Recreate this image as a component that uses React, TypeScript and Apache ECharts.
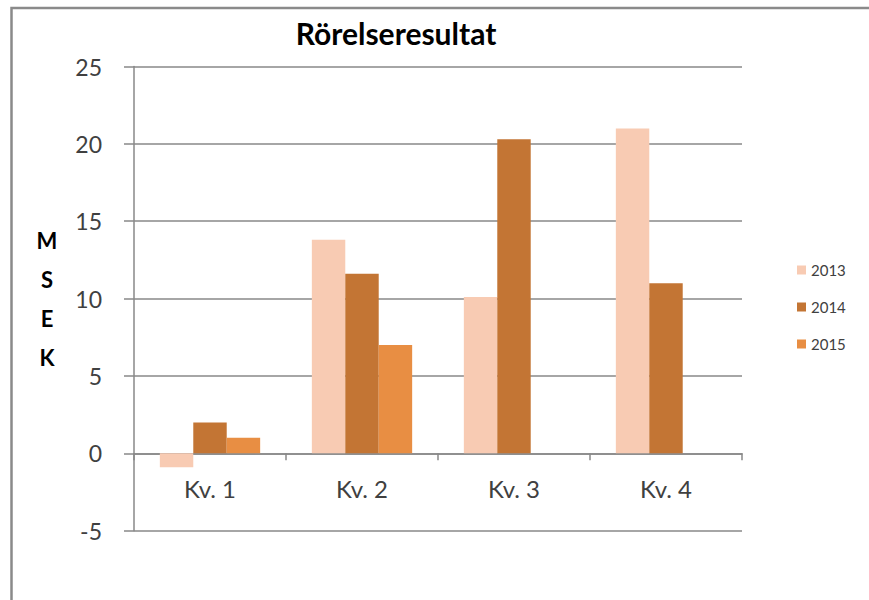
import React, { useEffect, useRef } from "react";
import * as echarts from "echarts";

const categories = ["Kv. 1", "Kv. 2", "Kv. 3", "Kv. 4"];
const years = ["2013", "2014", "2015"];
const values2013 = [-0.9, 13.8, 10.1, 21.0];
const values2014 = [2.0, 11.6, 20.3, 11.0];
const values2015 = [1.0, 7.0, null, null];
const colors = ["#F8CBB3", "#C37534", "#E88E43"];
const yTicks = { min: -5, max: 25, interval: 5 };

const FONT = "Lato";

export default function App() {
  const ref = useRef<HTMLDivElement>(null);
  useEffect(() => {
    if (!ref.current) return;
    const chart = echarts.init(ref.current, null, { renderer: "svg" });
    const seriesData = [values2013, values2014, values2015];
    const gridTop = 66.5;
    const gridBottom = 69.3;
    const gridHeight = 600 - gridTop - gridBottom;
    const zeroOffset = (gridHeight * (0 - yTicks.min)) / (yTicks.max - yTicks.min);
    chart.setOption({
      animation: false,
      backgroundColor: "#ffffff",
      title: {
        text: "Rörelseresultat",
        left: 391,
        top: 13,
        textAlign: "center",
        textStyle: { fontFamily: FONT, fontWeight: "bold", fontSize: 30, color: "#000000" },
      },
      legend: {
        orient: "vertical",
        left: 792,
        top: 257.5,
        itemWidth: 9,
        itemHeight: 9,
        itemGap: 22,
        icon: "rect",
        data: years,
        textStyle: { fontFamily: FONT, fontSize: 15, color: "#404040" },
      },
      grid: { left: 134, right: 127, top: gridTop, bottom: gridBottom, containLabel: false },
      xAxis: {
        type: "category",
        data: categories,
        offset: -zeroOffset,
        axisLine: { onZero: false, lineStyle: { color: "#888888", width: 1.5 } },
        axisTick: { show: true, length: 7, lineStyle: { color: "#888888", width: 1.5 } },
        axisLabel: { margin: 23, fontFamily: FONT, fontSize: 24, color: "#404040" },
        splitLine: { show: false },
      },
      yAxis: {
        type: "value",
        min: yTicks.min,
        max: yTicks.max,
        interval: yTicks.interval,
        name: "M\nS\nE\nK",
        nameLocation: "middle",
        nameRotate: 0,
        nameGap: 87,
        nameTextStyle: {
          fontFamily: FONT,
          fontWeight: "bold",
          fontSize: 22,
          color: "#000000",
          lineHeight: 39,
          align: "center",
          verticalAlign: "middle",
          padding: [10, 0, 0, 0],
        },
        axisLine: { show: true, lineStyle: { color: "#888888", width: 1.5 } },
        axisTick: { show: true, length: 10, lineStyle: { color: "#888888", width: 1.5 } },
        axisLabel: { margin: 32, fontFamily: FONT, fontSize: 23, color: "#404040" },
        splitLine: { show: true, lineStyle: { color: "#888888", width: 1.5 } },
      },
      graphic: [
        {
          type: "polyline",
          shape: { points: [[11.5, 600], [11.5, 8], [869, 8]] },
          style: { stroke: "#8a8a8a", lineWidth: 2.5, fill: null },
          silent: true,
        },
      ],
      series: years.map((y, i) => ({
        name: y,
        type: "bar",
        data: seriesData[i],
        barGap: "0%",
        barCategoryGap: "34%",
        itemStyle: { color: colors[i] },
      })),
    });
    return () => chart.dispose();
  }, []);
  return (
    <div
      ref={ref}
      style={{ position: "fixed", left: 0, top: 0, width: 869, height: 600 }}
    />
  );
}
